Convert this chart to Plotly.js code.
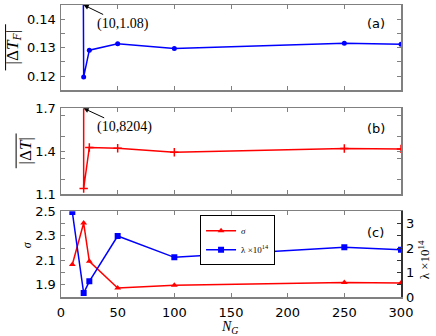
<!DOCTYPE html>
<html>
<head>
<meta charset="utf-8">
<script src="https://cdn.plot.ly/plotly-3.0.1.min.js"></script>
<style>
  body { margin: 0; background: #fff; }
  #plot { width: 436px; height: 336px; }
</style>
</head>
<body>
<div id="plot"></div>
<script>
// values
var NG = [10, 20, 25, 50, 100, 250, 300];
var dTF = [1.08, 0.1197, 0.1291, 0.1314, 0.1297, 0.1315, 0.1312];
var dT = [8204, 1.139, 1.426, 1.421, 1.393, 1.419, 1.416];
var sigma = [2.065, 2.404, 2.091, 1.873, 1.895, 1.918, 1.914];
var lambda14 = [3.47, 0.16, 0.64, 2.49, 1.62, 2.03, 1.93];
var xTicks = [0, 50, 100, 150, 200, 250, 300];

var axGray = "#808080";
var serif = "Liberation Serif, DejaVu Serif, serif";

function xAxis(anchor, labels) {
  return {
    anchor: anchor,
    range: [0, 300],
    tickvals: xTicks,
    ticks: "inside",
    ticklen: 4,
    tickcolor: axGray,
    showticklabels: labels,
    showline: true,
    linecolor: axGray,
    linewidth: 1.5,
    mirror: "ticks",
    showgrid: false,
    zeroline: false,
    ticklabelstandoff: 3,
  };
}

function yAxis(anchor, domain, range, tick0, dtick, minor, mirror) {
  return {
    anchor: anchor,
    domain: domain,
    range: range,
    tick0: tick0,
    dtick: dtick,
    ticks: "inside",
    ticklen: 4,
    tickcolor: axGray,
    minor: { dtick: minor, ticks: "inside", ticklen: 4, tickcolor: axGray },
    showline: true,
    linecolor: axGray,
    linewidth: 1.5,
    mirror: mirror,
    showgrid: false,
    zeroline: false,
    ticklabelstandoff: 1,
  };
}

// text placed in paper units, always centred on its point
function label(x, y, text, font, angle) {
  return {
    x: x, y: y, xref: "paper", yref: "paper", text: text,
    xanchor: "center", yanchor: "middle", showarrow: false,
    textangle: angle || 0, font: font || {},
  };
}

var traceA = {
  x: NG, y: dTF, xaxis: "x", yaxis: "y",
  mode: "lines+markers", showlegend: false,
  line: { color: "#0000ff", width: 1.5 },
  marker: { color: "#0000ff", size: 5, symbol: "circle" },
};
var traceB = {
  x: NG, y: dT, xaxis: "x2", yaxis: "y2",
  mode: "lines+markers", showlegend: false,
  line: { color: "#ff0000", width: 1.5 },
  marker: { color: "#ff0000", size: 6, symbol: "cross-thin-open", line: { color: "#ff0000", width: 1.5 } },
};
var traceSigma = {
  x: NG, y: sigma, xaxis: "x3", yaxis: "y3", name: "<i>σ</i>",
  mode: "lines+markers",
  line: { color: "#ff0000", width: 1.5 },
  marker: { color: "#ff0000", size: 6, symbol: "triangle-up" },
};
var traceLambda = {
  x: NG, y: lambda14, xaxis: "x3", yaxis: "y4", name: "λ ×10<sup>14</sup>",
  mode: "lines+markers",
  line: { color: "#0000ff", width: 1.5 },
  marker: { color: "#0000ff", size: 6, symbol: "square" },
};

var data = [traceA, traceB, traceSigma, traceLambda];

var y4 = yAxis("x3", [0, 0.2935], [0, 3.5], 0, 1, 0.5, false);
y4.overlaying = "y3";
y4.side = "right";
y4.linecolor = "#333";
y4.tickcolor = "#333";
y4.minor.tickcolor = "#333";

var layout = {
  width: 436,
  height: 336,
  margin: { l: 61, r: 35, t: 5, b: 39 },
  paper_bgcolor: "#fff",
  plot_bgcolor: "#fff",
  font: { family: "DejaVu Sans, sans-serif", size: 13, color: "#000" },
  xaxis: xAxis("y", false),
  xaxis2: xAxis("y2", false),
  xaxis3: xAxis("y3", true),
  yaxis: yAxis("x", [0.708, 1], [0.115, 0.145], 0.12, 0.01, 0.005, "ticks"),
  yaxis2: yAxis("x2", [0.3527, 0.646], [1.1, 1.7], 1.1, 0.3, 0.15, "ticks"),
  yaxis3: yAxis("x3", [0, 0.2935], [1.8, 2.5], 1.9, 0.2, 0.1, false),
  yaxis4: y4,
  legend: {
    x: 0.409, y: 0.28, xanchor: "left", yanchor: "top",
    bgcolor: "#fff", bordercolor: "#000", borderwidth: 1,
    font: { family: serif, size: 9 },
    itemwidth: 30,
    tracegroupgap: 0,
  },
  annotations: [
    { x: 20, y: 0.145, xref: "x", yref: "y", text: "(10,1.08)", showarrow: true,
      arrowhead: 2, arrowsize: 1, arrowwidth: 1, arrowcolor: "#000", ax: 39, ay: 19,
      font: { family: serif, size: 14 } },
    { x: 20, y: 1.7, xref: "x2", yref: "y2", text: "(10,8204)", showarrow: true,
      arrowhead: 2, arrowsize: 1, arrowwidth: 1, arrowcolor: "#000", ax: 41, ay: 19,
      font: { family: serif, size: 14 } },
    label(0.926, 0.937, "(a)"),
    label(0.926, 0.578, "(b)"),
    label(0.926, 0.222, "(c)"),
    label(-0.138, 0.855, "|Δ<i>T</i><sub><i>F</i></sub>|", { family: serif, size: 17 }, -90),
    label(-0.106, 0.502, "|Δ<i>T</i>|", { family: serif, size: 17 }, -90),
    label(-0.10, 0.177, "<i>σ</i>", { family: serif, size: 12 }, -90),
    label(1.068, 0.126, "λ ×10<sup>14</sup>", { family: serif, size: 13 }, -90),
    label(0.497, -0.106, "<i>N</i><sub><i>G</i></sub>", { family: serif, size: 14 }),
  ],
  shapes: [
    // overlines of the y titles
    { type: "line", xref: "paper", yref: "paper", x0: -0.163, x1: -0.163, y0: 0.776, y1: 0.934,
      line: { color: "#000", width: 1 } },
    { type: "line", xref: "paper", yref: "paper", x0: -0.132, x1: -0.132, y0: 0.441, y1: 0.560,
      line: { color: "#000", width: 1 } },
  ],
};

Plotly.newPlot("plot", data, layout, { staticPlot: true });
</script>
</body>
</html>
